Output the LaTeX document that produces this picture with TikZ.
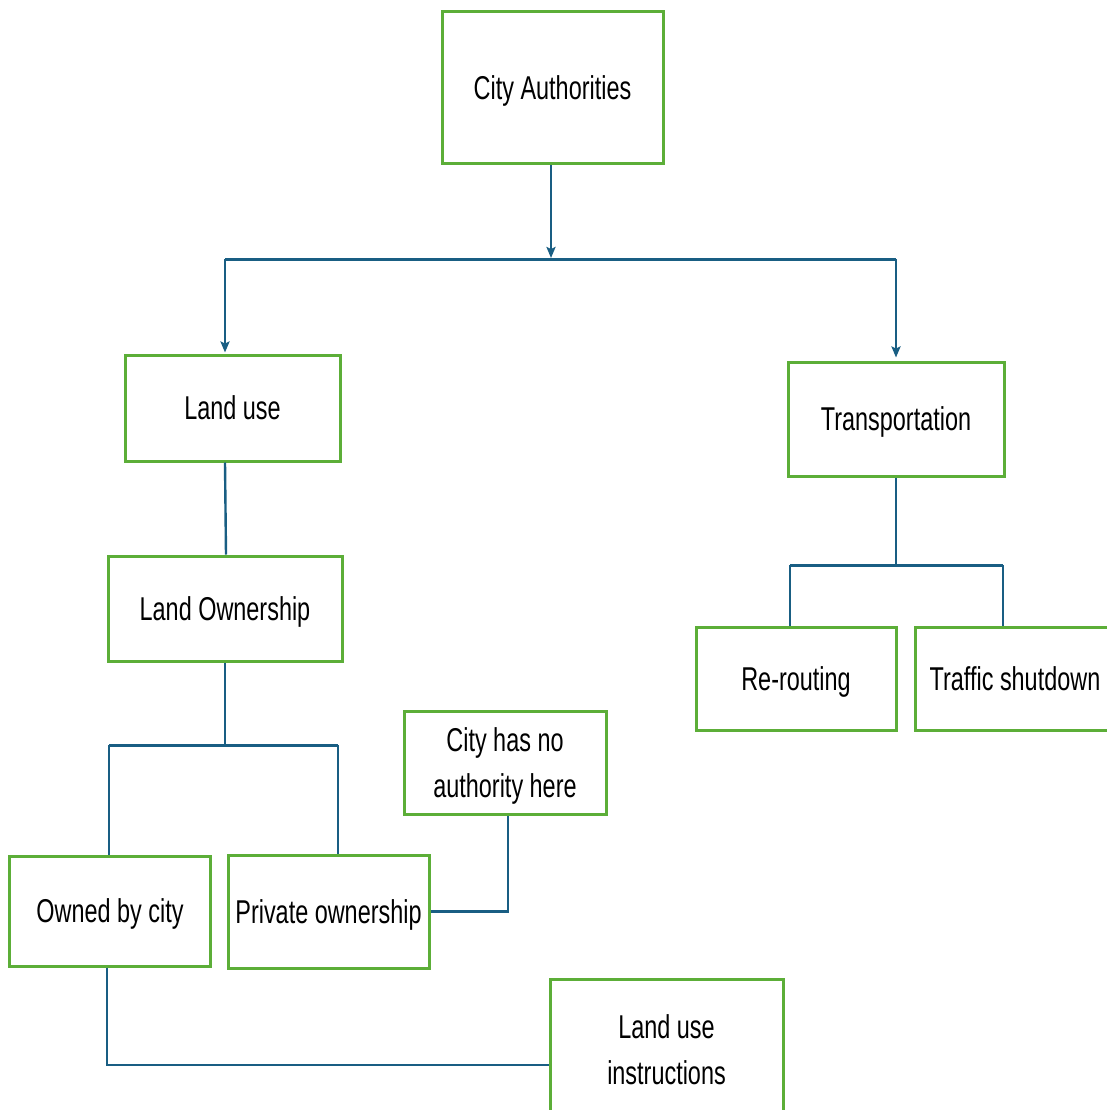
\documentclass[tikz,border=0pt]{standalone}
\usepackage{fontspec}
\setmainfont{Liberation Sans}[FakeStretch=0.71]
\usetikzlibrary{arrows.meta}
\definecolor{boxgreen}{HTML}{5CAE38}
\definecolor{wireblue}{HTML}{195E83}
\begin{document}
\begin{tikzpicture}[x=1pt,y=1pt,
  box/.style={draw=boxgreen, line width=3pt, fill=white, align=center,
    inner sep=0pt, text depth=0pt, font=\fontsize{33}{46}\selectfont},
  wire/.style={draw=wireblue, line width=2.4pt},
  bus/.style={draw=wireblue, line width=3pt},
  arrowline/.style={wire, -{Stealth[length=11pt,width=9pt,inset=2pt]}},
]
\useasboundingbox (0,0) rectangle (1107,-1110);
\clip (0,0) rectangle (1107,-1110);

% boxes
\node[box, minimum width=221, minimum height=152] (city)   at (552.5,-88)  {City Authorities};
\node[box, minimum width=215, minimum height=106] (landuse) at (232.5,-408) {Land use};
\node[box, minimum width=216, minimum height=114] (transp) at (896,-419)   {Transportation};
\node[box, minimum width=234, minimum height=105] (own)    at (225,-608.5) {Land Ownership};
\node[box, minimum width=200, minimum height=103] (reroute) at (796,-678.5) {Re-routing};
\node[box, minimum width=200, minimum height=103] (traffic) at (1015,-678.5) {Traffic shutdown};
\node[box, minimum width=202, minimum height=103] (noauth) at (505,-762.5) {City has no\\authority here};
\node[box, minimum width=201, minimum height=110] (owned)  at (110,-911)   {Owned by city};
\node[box, minimum width=201, minimum height=113] (priv)   at (328.5,-911.5) {Private ownership};
\node[box, minimum width=233, minimum height=142] (instr)  at (666.5,-1050) {Land use\\instructions};

% bus levels
\coordinate (busA) at (0,-259);
\coordinate (busB) at (0,-745);
\coordinate (busC) at (0,-565);

% City Authorities to Land use and Transportation
\draw[arrowline] ([xshift=-1.5pt]city.south) -- ([xshift=-1.5pt,yshift=1pt]city.south |- busA);
\draw[bus] ([xshift=-7.5pt]landuse.north |- busA) -- (transp.north |- busA);
\draw[arrowline] ([xshift=-7.5pt]landuse.north |- busA) -- ([xshift=-7.5pt,yshift=1pt]landuse.north);
\draw[arrowline] (transp.north |- busA) -- ([yshift=3pt]transp.north);

% Land use to Land Ownership
\draw[wire] ([xshift=-7.5pt]landuse.south) -- ([xshift=1pt]own.north);

% Land Ownership to its two cases
\draw[wire] (own.south) -- (own.south |- busB);
\draw[wire] ([xshift=-1pt]owned.north) -- ([xshift=-1pt]owned.north |- busB);
\draw[wire] ([xshift=9.5pt]priv.north) -- ([xshift=9.5pt]priv.north |- busB);
\draw[bus] ([xshift=-1pt]owned.north |- busB) -- ([xshift=9.5pt]priv.north |- busB);

% Transportation to its two measures
\draw[wire] (transp.south) -- (transp.south |- busC);
\draw[wire] ([xshift=-6pt]reroute.north) -- ([xshift=-6pt]reroute.north |- busC);
\draw[wire] ([xshift=-12pt]traffic.north) -- ([xshift=-12pt]traffic.north |- busC);
\draw[bus] ([xshift=-6pt]reroute.north |- busC) -- ([xshift=-12pt]traffic.north |- busC);

% Private ownership to no authority
\draw[wire] (priv.east) -| ([xshift=3pt]noauth.south);

% Owned by city to land use instructions
\draw[wire] ([xshift=-3pt]owned.south) |- ([yshift=-15pt]instr.west);
\end{tikzpicture}
\end{document}
